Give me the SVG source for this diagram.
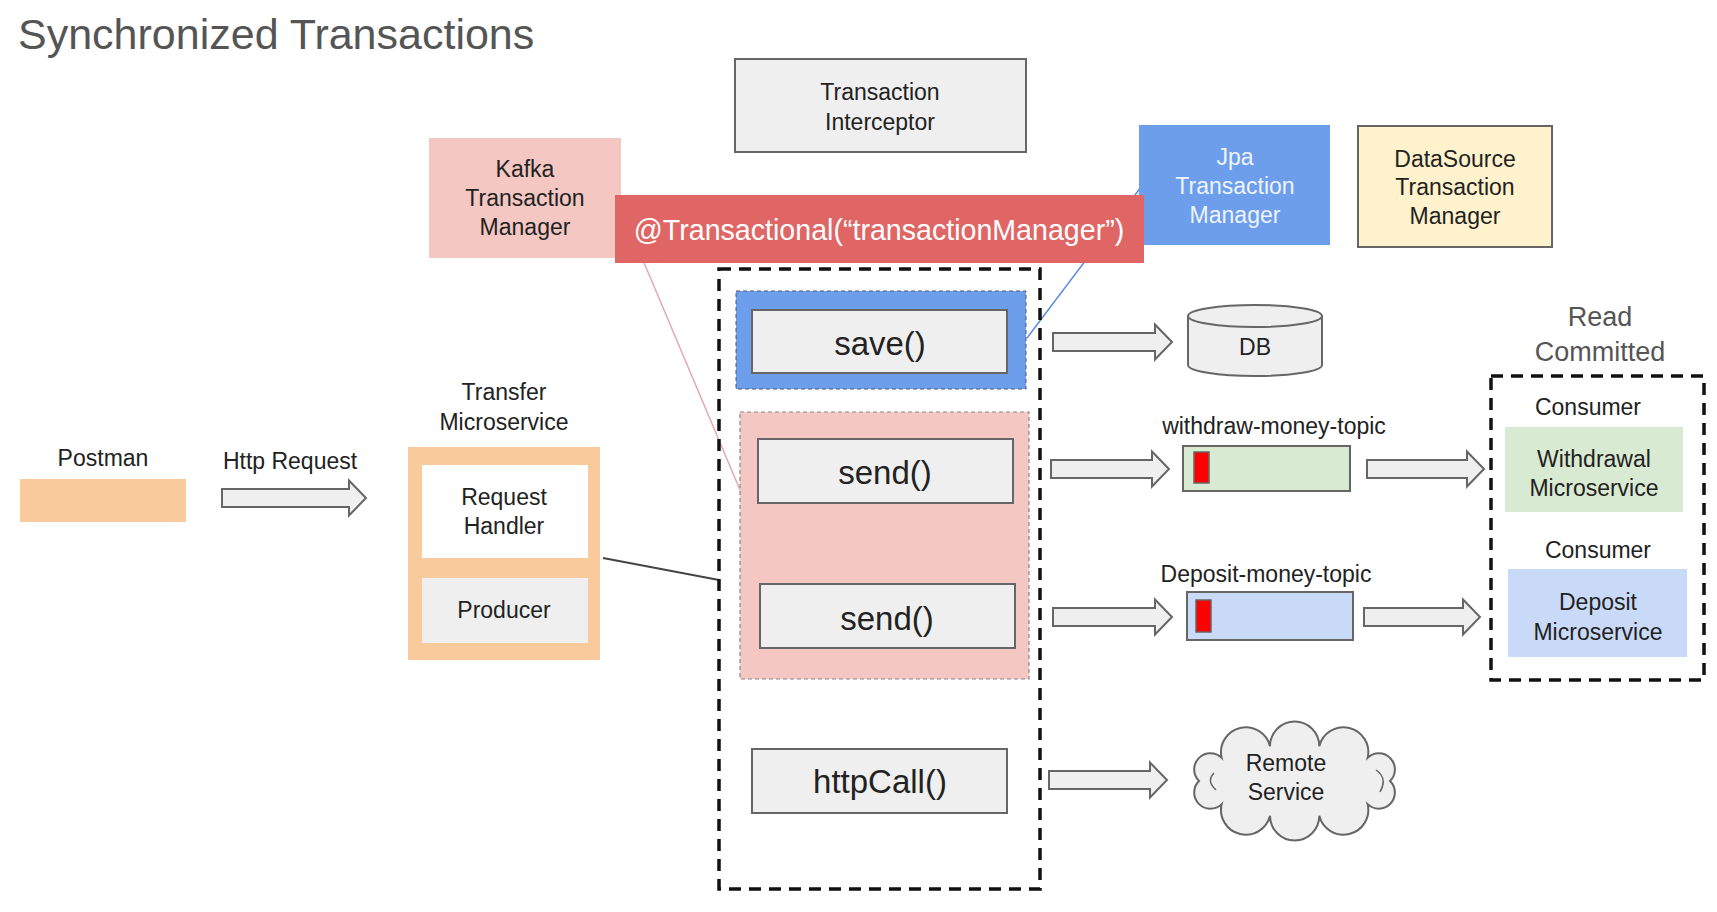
<svg xmlns="http://www.w3.org/2000/svg" width="1717" height="912" viewBox="0 0 1717 912">
<style>
text{font-family:"Liberation Sans",Arial,sans-serif;fill:#222;text-anchor:middle}
.t23{font-size:23px}
.big{font-size:33px}
.box{fill:#efefef;stroke:#666;stroke-width:2}
.arrow{fill:#efefef;stroke:#666;stroke-width:2}
.dash{fill:none;stroke:#111;stroke-width:3.5;stroke-dasharray:12 8}
</style>
<rect width="1717" height="912" fill="#fff"/>
<text id="title" x="18" y="49" style="font-size:43px;text-anchor:start;fill:#555">Synchronized Transactions</text>

<g id="connectors">
  <line x1="626" y1="220" x2="740" y2="490" stroke="#e6a8ae" stroke-width="1.5"/>
  <line x1="1141" y1="187" x2="1027" y2="338" stroke="#5b8bd9" stroke-width="1.5"/>
  <line x1="603" y1="558" x2="719" y2="580" stroke="#444" stroke-width="2"/>
  <path class="arrow" d="M222,489 H349 V480.5 L366,498 L349,515.5 V507 H222 Z"/>
  <path class="arrow" d="M1053,333 H1155 V324.5 L1172,342 L1155,359.5 V351 H1053 Z"/>
  <path class="arrow" d="M1051,460 H1152 V451.5 L1169,469 L1152,486.5 V478 H1051 Z"/>
  <path class="arrow" d="M1053,608 H1155 V599.5 L1172,617 L1155,634.5 V626 H1053 Z"/>
  <path class="arrow" d="M1049,771 H1150 V762.5 L1167,780 L1150,797.5 V789 H1049 Z"/>
  <path class="arrow" d="M1367,460 H1467 V451.5 L1484,469 L1467,486.5 V478 H1367 Z"/>
  <path class="arrow" d="M1364,608 H1463 V599.5 L1480,617 L1463,634.5 V626 H1364 Z"/>
</g>

<g id="interceptor">
  <rect class="box" x="735" y="59" width="291" height="93"/>
  <text class="t23" x="880" y="100">Transaction</text>
  <text class="t23" x="880" y="130">Interceptor</text>
</g>
<g id="kafka-tm">
  <rect x="429" y="138" width="192" height="120" fill="#f4c7c3"/>
  <text class="t23" x="525" y="177">Kafka</text>
  <text class="t23" x="525" y="206">Transaction</text>
  <text class="t23" x="525" y="235">Manager</text>
</g>
<g id="jpa-tm">
  <rect x="1139" y="125" width="191" height="120" fill="#6d9eeb"/>
  <text class="t23" x="1235" y="165" style="fill:#eef3fd">Jpa</text>
  <text class="t23" x="1235" y="194" style="fill:#eef3fd">Transaction</text>
  <text class="t23" x="1235" y="223" style="fill:#eef3fd">Manager</text>
</g>
<g id="datasource-tm">
  <rect x="1358" y="126" width="194" height="121" fill="#fff2cc" stroke="#666" stroke-width="2"/>
  <text class="t23" x="1455" y="167">DataSource</text>
  <text class="t23" x="1455" y="195">Transaction</text>
  <text class="t23" x="1455" y="224">Manager</text>
</g>
<g id="transactional">
  <rect x="615" y="195" width="529" height="68" fill="#e06666"/>
  <text x="879" y="240" style="font-size:28.6px;fill:#fff">@Transactional(“transactionManager”)</text>
</g>

<g id="tx-scope">
  <rect class="dash" x="719" y="269" width="321" height="620"/>
</g>
<g id="save">
  <rect x="736" y="291" width="290" height="98" fill="#6d9eeb" stroke="#557" stroke-width="1" stroke-dasharray="4 3"/>
  <rect class="box" x="752" y="310" width="255" height="63"/>
  <text class="big" x="880" y="355">save()</text>
</g>
<g id="kafka-scope">
  <rect x="740" y="412" width="289" height="267" fill="#f4c7c3" stroke="#888" stroke-width="1.2" stroke-dasharray="4 3"/>
</g>
<g id="send1">
  <rect class="box" x="758" y="439" width="255" height="64"/>
  <text class="big" x="885" y="484">send()</text>
</g>
<g id="send2">
  <rect class="box" x="760" y="584" width="255" height="64"/>
  <text class="big" x="887" y="630">send()</text>
</g>
<g id="httpcall">
  <rect class="box" x="752" y="749" width="255" height="64"/>
  <text class="big" x="880" y="793">httpCall()</text>
</g>

<g id="postman">
  <text class="t23" x="103" y="466">Postman</text>
  <rect x="20" y="479" width="166" height="43" fill="#f9cb9c"/>
</g>
<text id="http-label" class="t23" x="290" y="469">Http Request</text>
<g id="transfer">
  <text class="t23" x="504" y="400">Transfer</text>
  <text class="t23" x="504" y="430">Microservice</text>
  <rect x="408" y="447" width="192" height="213" fill="#f9cb9c"/>
  <rect x="422" y="465" width="166" height="93" fill="#fff"/>
  <text class="t23" x="504" y="505">Request</text>
  <text class="t23" x="504" y="534">Handler</text>
  <rect x="422" y="578" width="166" height="65" fill="#efefef"/>
  <text class="t23" x="504" y="618">Producer</text>
</g>

<g id="db">
  <path d="M1188,316 A67,11 0 0 1 1322,316 V365 A67,11 0 0 1 1188,365 Z" class="box"/>
  <path d="M1188,316 A67,11 0 0 0 1322,316" fill="none" stroke="#666" stroke-width="2"/>
  <text class="t23" x="1255" y="355">DB</text>
</g>
<g id="withdraw-topic">
  <text class="t23" x="1274" y="434">withdraw-money-topic</text>
  <rect x="1183" y="446" width="167" height="45" fill="#d9ead3" stroke="#666" stroke-width="2"/>
  <rect x="1194" y="452" width="15" height="31" fill="#f00" stroke="#666" stroke-width="1.5"/>
</g>
<g id="deposit-topic">
  <text class="t23" x="1266" y="582">Deposit-money-topic</text>
  <rect x="1187" y="592" width="166" height="48" fill="#c9daf8" stroke="#666" stroke-width="2"/>
  <rect x="1196" y="600" width="15" height="32" fill="#f00" stroke="#666" stroke-width="1.5"/>
</g>

<g id="consumers">
  <text x="1600" y="326" style="font-size:27px;fill:#555">Read</text>
  <text x="1600" y="361" style="font-size:27px;fill:#555">Committed</text>
  <rect class="dash" x="1491" y="376" width="213" height="304"/>
</g>
<g id="withdrawal-ms">
  <text class="t23" x="1588" y="415">Consumer</text>
  <rect x="1505" y="427" width="178" height="85" fill="#d9ead3"/>
  <text class="t23" x="1594" y="467">Withdrawal</text>
  <text class="t23" x="1594" y="496">Microservice</text>
</g>
<g id="deposit-ms">
  <text class="t23" x="1598" y="558">Consumer</text>
  <rect x="1508" y="569" width="179" height="88" fill="#c9daf8"/>
  <text class="t23" x="1598" y="610">Deposit</text>
  <text class="t23" x="1598" y="640">Microservice</text>
</g>
<g id="remote-service">
  <path class="box" d="M1390,781 A1,1 0 0 1 1367.6,804.1 A1,1 0 0 1 1319.3,815.8 A1,1 0 0 1 1270,815.8 A1,1 0 0 1 1221.7,804.1 A1,1 0 0 1 1199,781 A1,1 0 0 1 1221.7,757.9 A1,1 0 0 1 1270,746.2 A1,1 0 0 1 1319.3,746.2 A1,1 0 0 1 1367.6,757.9 A1,1 0 0 1 1390,781 Z"/>
  <path d="M1376,770 Q1388,778 1380,792 M1214,773 Q1206,781 1216,790" fill="none" stroke="#666" stroke-width="1.5"/>
  <text class="t23" x="1286" y="771">Remote</text>
  <text class="t23" x="1286" y="800">Service</text>
</g>
</svg>
